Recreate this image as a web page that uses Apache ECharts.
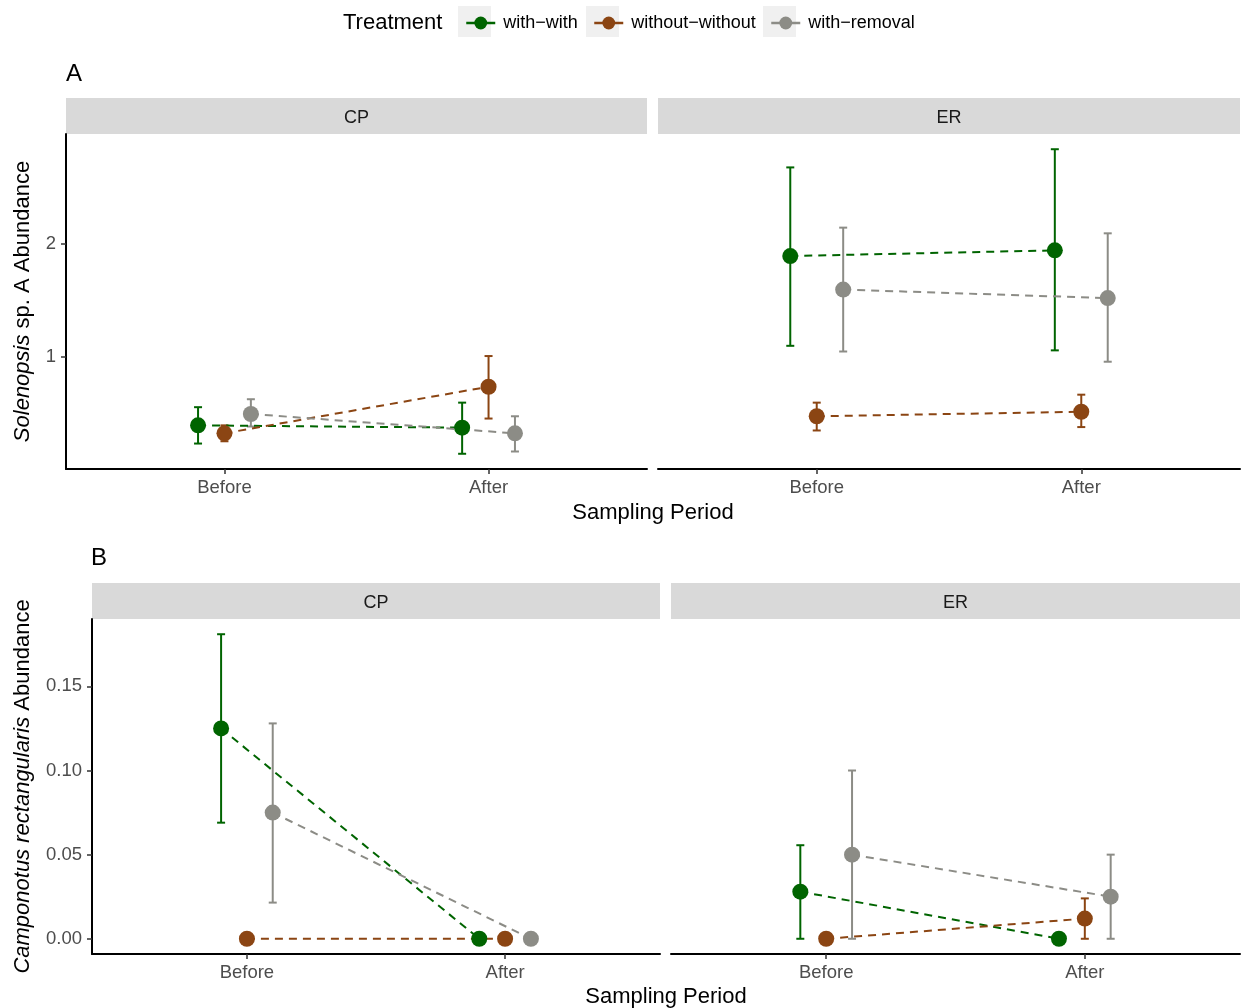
<!DOCTYPE html>
<html>
<head>
<meta charset="utf-8">
<title>Ant abundance by treatment</title>
<script src="https://cdn.jsdelivr.net/npm/echarts@6/dist/echarts.min.js"></script>
<style>
  html, body { margin: 0; padding: 0; background: #fff; }
  #chart { width: 1245px; height: 1008px; }
</style>
</head>
<body>
<div id="chart"></div>
<script>
// categories
const periods = ['Before', 'After'];
const treatments = ['with\u2212with', 'without\u2212without', 'with\u2212removal'];
const sites = ['CP', 'ER'];

// A: Solenopsis sp. A abundance, rows = treatment, cols = period
const solCPMean = [[0.40, 0.38], [0.33, 0.74], [0.50, 0.33]];
const solCPLow  = [[0.24, 0.15], [0.26, 0.46], [0.39, 0.17]];
const solCPHigh = [[0.56, 0.60], [0.40, 1.01], [0.63, 0.48]];
const solERMean = [[1.89, 1.94], [0.48, 0.52], [1.595, 1.52]];
const solERLow  = [[1.10, 1.06], [0.355, 0.385], [1.05, 0.96]];
const solERHigh = [[2.67, 2.83], [0.60, 0.67], [2.14, 2.09]];

// B: Camponotus rectangularis abundance
const camCPMean = [[0.125, 0], [0, 0], [0.075, 0]];
const camCPLow  = [[0.069, 0], [0, 0], [0.0215, 0]];
const camCPHigh = [[0.181, 0], [0, 0], [0.128, 0]];
const camERMean = [[0.028, 0], [0, 0.012], [0.05, 0.025]];
const camERLow  = [[0, 0], [0, 0], [0, 0]];
const camERHigh = [[0.0556, 0], [0, 0.024], [0.10, 0.05]];

// tick labels
const solTicks = [1, 2];
const camTicks = [0, 0.05, 0.10, 0.15];

const colors = ['#006400', '#8B4513', '#8C8C86'];
const dodge = [-0.1, 0, 0.1];
const FONT = "'Liberation Sans', Arial, sans-serif";

// panels: grid index -> data
const panels = [
  { mean: solCPMean, low: solCPLow, high: solCPHigh },
  { mean: solERMean, low: solERLow, high: solERHigh },
  { mean: camCPMean, low: camCPLow, high: camCPHigh },
  { mean: camERMean, low: camERLow, high: camERHigh }
];

// ggplot-like 5% expansion of the shared y range per row
function yRange(a, b) {
  const all = [].concat(a.low.flat(), a.high.flat(), b.low.flat(), b.high.flat());
  const lo = Math.min.apply(null, all), hi = Math.max.apply(null, all);
  const pad = (hi - lo) * 0.05;
  return [lo - pad, hi + pad];
}
const solRange = yRange(panels[0], panels[1]);
const camRange = yRange(panels[2], panels[3]);

const grids = [
  { left: 66, top: 134, width: 581, height: 335 },
  { left: 658, top: 134, width: 582, height: 335 },
  { left: 92, top: 619, width: 568, height: 335 },
  { left: 671, top: 619, width: 569, height: 335 }
];

const xAxes = grids.map(function (g, i) {
  return {
    type: 'value', gridIndex: i, min: 0.4, max: 2.6,
    axisLine: { show: true, onZero: false, lineStyle: { color: '#000', width: 2 } },
    axisTick: { show: true, customValues: [1, 2], length: 5, lineStyle: { color: '#333', width: 1.5 } },
    axisLabel: {
      customValues: [1, 2], margin: 9, color: '#4D4D4D', fontSize: 18.5, fontFamily: FONT,
      formatter: function (v) { return periods[Math.round(v) - 1]; }
    },
    splitLine: { show: false }
  };
});

function yAxisFor(i) {
  const isA = i < 2;
  const range = isA ? solRange : camRange;
  const ticks = isA ? solTicks : camTicks;
  const first = (i % 2 === 0);
  return {
    type: 'value', gridIndex: i, min: range[0], max: range[1],
    show: first,
    name: first ? (isA ? '{i|Solenopsis} sp. A Abundance' : '{i|Camponotus rectangularis} Abundance') : '',
    nameLocation: 'middle', nameRotate: 90, nameGap: isA ? 32 : 58,
    nameTextStyle: {
      fontSize: 22, color: '#000', fontFamily: FONT,
      rich: { i: { fontStyle: 'italic', fontSize: 22, color: '#000', fontFamily: FONT } }
    },
    axisLine: { show: true, onZero: false, lineStyle: { color: '#000', width: 2 } },
    axisTick: { show: true, customValues: ticks, length: 5, lineStyle: { color: '#333', width: 1.5 } },
    axisLabel: {
      customValues: ticks, margin: 10, color: '#4D4D4D', fontSize: 18.5, fontFamily: FONT,
      formatter: function (v) { return isA ? String(v) : v.toFixed(2); }
    },
    splitLine: { show: false }
  };
}
const yAxes = grids.map(function (g, i) { return yAxisFor(i); });

const series = [];
// dashed lines with points
panels.forEach(function (p, gi) {
  treatments.forEach(function (t, ti) {
    series.push({
      name: t, type: 'line', xAxisIndex: gi, yAxisIndex: gi,
      data: periods.map(function (per, pi) { return [pi + 1 + dodge[ti], p.mean[ti][pi]]; }),
      symbol: 'circle', symbolSize: 16,
      lineStyle: { color: colors[ti], width: 2, type: [8, 6] },
      itemStyle: { color: colors[ti] },
      emphasis: { disabled: true },
      z: 3
    });
  });
});
// error bars
panels.forEach(function (p, gi) {
  treatments.forEach(function (t, ti) {
    const rows = [];
    periods.forEach(function (per, pi) {
      if (p.high[ti][pi] > p.low[ti][pi]) {
        rows.push([pi + 1 + dodge[ti], p.low[ti][pi], p.high[ti][pi]]);
      }
    });
    series.push({
      type: 'custom', xAxisIndex: gi, yAxisIndex: gi,
      data: rows,
      encode: { x: 0, y: [1, 2] },
      z: 2,
      renderItem: function (params, api) {
        const x = api.value(0);
        const top = api.coord([x, api.value(2)]);
        const bot = api.coord([x, api.value(1)]);
        const w = 4;
        const st = { stroke: colors[ti], lineWidth: 2 };
        return {
          type: 'group',
          children: [
            { type: 'line', shape: { x1: top[0], y1: top[1], x2: bot[0], y2: bot[1] }, style: st },
            { type: 'line', shape: { x1: top[0] - w, y1: top[1], x2: top[0] + w, y2: top[1] }, style: st },
            { type: 'line', shape: { x1: bot[0] - w, y1: bot[1], x2: bot[0] + w, y2: bot[1] }, style: st }
          ]
        };
      }
    });
  });
});

// facet strips, panel letters, shared axis titles, legend decorations
const graphics = [];
grids.forEach(function (g, i) {
  graphics.push({
    type: 'rect', left: g.left, top: g.top - 36,
    shape: { width: g.width, height: 36 },
    style: { fill: '#D9D9D9' }, z: 0
  });
  graphics.push({
    type: 'text', x: g.left + g.width / 2, y: g.top - 16,
    style: { text: sites[i % 2], fontSize: 18, fill: '#1A1A1A', fontFamily: FONT, align: 'center', verticalAlign: 'middle' }
  });
});
graphics.push({ type: 'text', x: 66, y: 74, style: { text: 'A', fontSize: 24, fill: '#000', fontFamily: FONT, verticalAlign: 'middle' } });
graphics.push({ type: 'text', x: 91, y: 558, style: { text: 'B', fontSize: 24, fill: '#000', fontFamily: FONT, verticalAlign: 'middle' } });
graphics.push({ type: 'text', x: 653, y: 513, style: { text: 'Sampling Period', fontSize: 22, fill: '#000', fontFamily: FONT, align: 'center', verticalAlign: 'middle' } });
graphics.push({ type: 'text', x: 666, y: 997, style: { text: 'Sampling Period', fontSize: 22, fill: '#000', fontFamily: FONT, align: 'center', verticalAlign: 'middle' } });
graphics.push({ type: 'text', x: 343, y: 23, style: { text: 'Treatment', fontSize: 22, fill: '#000', fontFamily: FONT, verticalAlign: 'middle' } });

const keyBoxX = [458, 586, 763];
keyBoxX.forEach(function (x) {
  graphics.push({ type: 'rect', left: x, top: 6, shape: { width: 33, height: 31 }, style: { fill: '#F0F0F0' }, z: -1 });
});

const legends = treatments.map(function (t, i) {
  return {
    data: [t], left: keyBoxX[i] + 2, top: 9,
    itemWidth: 29, itemHeight: 16,
    lineStyle: { type: 'solid', width: 2.5 },
    selectedMode: false,
    textStyle: { fontSize: 18, color: '#000', fontFamily: FONT, padding: [0, 0, 0, 3] }
  };
});

const chart = echarts.init(document.getElementById('chart'));
chart.setOption({
  animation: false,
  backgroundColor: '#fff',
  legend: legends,
  grid: grids,
  xAxis: xAxes,
  yAxis: yAxes,
  series: series,
  graphic: graphics
});
</script>
</body>
</html>
